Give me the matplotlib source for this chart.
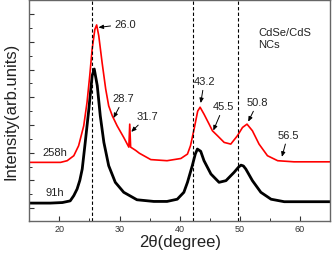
import matplotlib
matplotlib.use('Agg')
import matplotlib.pyplot as plt
from matplotlib.ticker import MultipleLocator

plt.rcParams['font.family'] = ['Liberation Sans', 'DejaVu Sans']

# XRD patterns (2theta in degree, intensity in arb. units)
x_91h = [15.2, 18.5, 20.5, 21.8, 22.4, 22.95, 23.4, 23.8, 24.3, 24.9, 25.45, 25.8,
         26.3, 26.8, 27.4, 28.2, 29.3, 30.7, 32.9, 35.7, 37.9, 39.6, 40.7, 41.3, 42.1,
         42.6, 42.95, 43.5, 44.05, 45.2, 46.55, 47.7, 49.05, 49.8, 50.2, 50.6, 51.0,
         52.1, 53.5, 55.2, 57.4, 65.0]
y_91h = [0.18, 0.18, 0.20, 0.26, 0.45, 0.69, 1.00, 1.41, 2.37, 3.57, 4.78, 5.02,
         4.42, 3.33, 2.37, 1.53, 0.93, 0.57, 0.30, 0.24, 0.24, 0.32, 0.57, 0.93, 1.53,
         1.95, 2.13, 2.05, 1.71, 1.23, 0.93, 0.99, 1.29, 1.48, 1.55, 1.52, 1.41,
         0.99, 0.57, 0.32, 0.23, 0.23]

x_258h = [15.2, 20.2, 21.3, 22.4, 23.2, 24.05, 24.6, 25.05, 25.45, 25.9, 26.2, 26.55,
          27.1, 27.7, 28.2, 28.8, 29.6, 30.7, 31.55, 31.7, 31.85, 32.7, 33.3, 35.2,
          37.9, 40.2, 41.3, 41.8, 42.4, 43.0, 43.4, 44.05, 44.9, 45.45, 46.3, 47.4,
          48.5, 49.6, 50.45, 51.2, 52.1, 53.2, 54.6, 56.3, 59.0, 65.0]
y_258h = [1.65, 1.65, 1.71, 1.89, 2.25, 2.97, 3.82, 4.78, 5.74, 6.45, 6.61, 6.22,
          5.26, 4.30, 3.69, 3.33, 2.97, 2.55, 2.20, 3.03, 2.20, 2.08, 1.98, 1.75,
          1.71, 1.79, 1.95, 2.25, 2.85, 3.50, 3.64, 3.39, 3.03, 2.79, 2.61, 2.37,
          2.31, 2.61, 2.91, 3.03, 2.79, 2.31, 1.89, 1.71, 1.67, 1.67]

# reference lines
ref_lines = [25.4, 42.2, 49.7]

# peak labels: text, peak position, label position
peak_text = ['26.0', '28.7', '31.7', '43.2', '45.5', '50.8', '56.5']
peak_xy = [(26.5, 6.52), (29.0, 3.25), (31.95, 2.75), (43.5, 3.79), (45.6, 2.8),
           (51.4, 3.12), (57.0, 1.85)]
label_xy = [(31.0, 6.64), (30.7, 3.96), (34.6, 3.31), (44.1, 4.58), (47.3, 3.67),
            (53.0, 3.82), (58.0, 2.64)]

fig = plt.figure(figsize=(3.33, 2.55), dpi=100)
ax = fig.add_axes([0.088, 0.129, 0.903, 0.867])

ax.plot(x_91h, y_91h, color='black', lw=2.0)
ax.plot(x_258h, y_258h, color='#ff0000', lw=1.2)

for xv in ref_lines:
    ax.axvline(xv, color='black', ls=(0, (3, 2)), lw=0.8)

for t, p, l in zip(peak_text, peak_xy, label_xy):
    ax.annotate(t, xy=p, xytext=l, ha='center', va='center', fontsize=8,
                color='#222222',
                arrowprops=dict(arrowstyle='-|>,head_length=0.35,head_width=0.15',
                                color='black', lw=0.7, shrinkA=1, shrinkB=0))

ax.text(19.3, 2.01, '258h', ha='center', va='center', fontsize=8, color='#222222')
ax.text(19.3, 0.57, '91h', ha='center', va='center', fontsize=8, color='#222222')
ax.text(53.1, 6.14, 'CdSe/CdS\nNCs', ha='left', va='center', fontsize=8, color='#222222')

ax.set_xlim(15, 65)
ax.set_ylim(-0.47, 7.51)
ax.xaxis.set_major_locator(MultipleLocator(10))
ax.xaxis.set_minor_locator(MultipleLocator(5))
ax.yaxis.set_major_locator(MultipleLocator(1))
ax.yaxis.set_minor_locator(MultipleLocator(0.5))
ax.tick_params(direction='in', which='major', length=3.5, width=0.8, colors='#333333',
               labelsize=6.5, labelcolor='#333333')
ax.tick_params(direction='in', which='minor', length=2, width=0.7, colors='#333333')
ax.set_yticklabels([])
ax.tick_params(axis='x', pad=2)

for s in ax.spines.values():
    s.set_color('#666666')
    s.set_linewidth(1.0)

ax.set_xlabel('2θ(degree)', fontsize=12, labelpad=1, color='#222222')
ax.set_ylabel('Intensity(arb.units)', fontsize=12, labelpad=4, color='#222222')

fig.savefig('out.png', dpi=100)
